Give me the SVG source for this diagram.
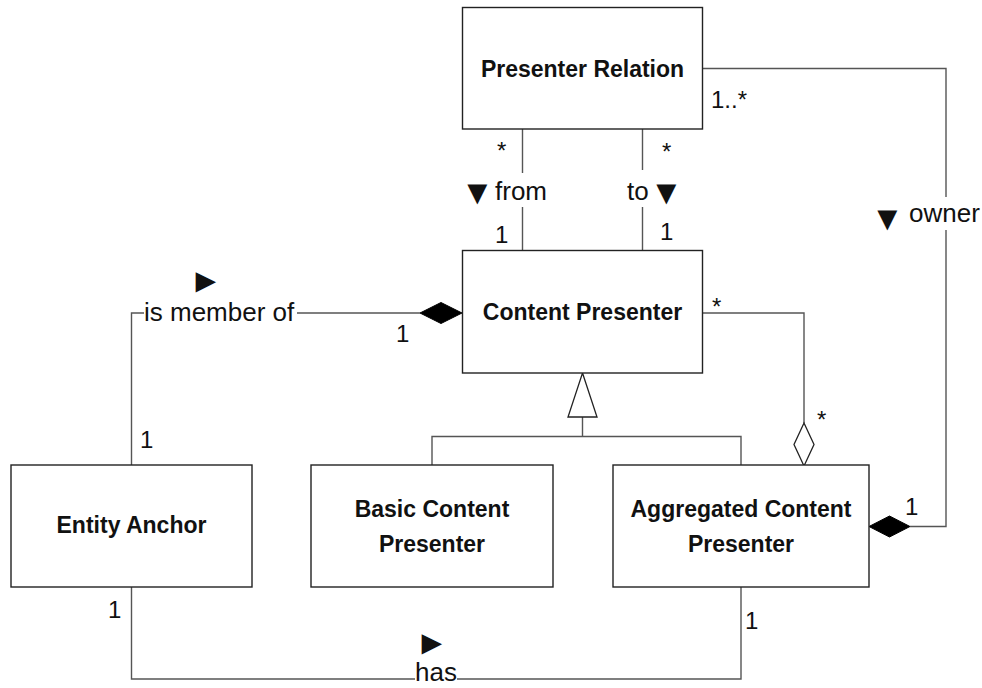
<svg xmlns="http://www.w3.org/2000/svg" width="982" height="688" viewBox="0 0 982 688">
  <style>
    .box { fill: #ffffff; stroke: #222222; stroke-width: 1.4; }
    .name { font-family: "Liberation Sans", Arial, sans-serif; font-weight: bold; font-size: 23px; fill: #111111; text-anchor: middle; }
    .line { fill: none; stroke: #555555; stroke-width: 1.4; }
    .filled { fill: #000000; stroke: #000000; stroke-width: 1; }
    .hollow { fill: #ffffff; stroke: #222222; stroke-width: 1.3; }
    .role { font-family: "Liberation Sans", Arial, sans-serif; font-size: 26px; fill: #111111; }
    .dir { font-size: 34px; }
    .mult { font-family: "Liberation Sans", Arial, sans-serif; font-size: 24px; fill: #111111; }
  </style>

  <!-- connectors -->
  <g id="connectors">
    <!-- from: Presenter Relation -> Content Presenter -->
    <path class="line" d="M522.5,129 V173 M522.5,207 V250"/>
    <!-- to: Presenter Relation -> Content Presenter -->
    <path class="line" d="M642.5,129 V170 M642.5,207 V250"/>
    <!-- owner: Presenter Relation -> Aggregated Content Presenter -->
    <path class="line" d="M702,68.5 H946 V197 M946,230 V526.5 H910"/>
    <polygon class="filled" points="869,526.5 889.5,516 910,526.5 889.5,537"/>
    <!-- is member of: Entity Anchor -> Content Presenter -->
    <path class="line" d="M131.5,465 V313 H144 M297,313 H420"/>
    <polygon class="filled" points="462,313 441,302.5 420,313 441,323.5"/>
    <!-- aggregation: Content Presenter -> Aggregated Content Presenter -->
    <path class="line" d="M703,313 H804 V423"/>
    <polygon class="hollow" points="804,466 814,444.5 804,423 794,444.5"/>
    <!-- generalization -->
    <path class="line" d="M582.5,417 V436.5 M432,465 V436.5 H741 V465"/>
    <polygon class="hollow" points="582.5,373 597,417 568,417"/>
    <!-- has: Entity Anchor -> Aggregated Content Presenter -->
    <path class="line" d="M131.5,587 V679 H415 M457,679 H741 V587"/>

    <!-- association labels -->
    <text class="role"><tspan class="dir" x="460.5" y="204">▼</tspan><tspan x="495" y="200">from</tspan></text>
    <text class="role"><tspan x="627" y="200">to</tspan><tspan class="dir" x="649.5" y="204">▼</tspan></text>
    <text class="role"><tspan class="dir" x="870.5" y="230">▼</tspan><tspan x="909" y="222">owner</tspan></text>
    <text class="role dir" x="189" y="292">►</text>
    <text class="role" x="144" y="321">is member of</text>
    <text class="role dir" x="415" y="654">►</text>
    <text class="role" x="415" y="681">has</text>

    <!-- multiplicities -->
    <text class="mult" x="497" y="159">*</text>
    <text class="mult" x="662" y="160">*</text>
    <text class="mult" x="495" y="243">1</text>
    <text class="mult" x="660" y="240">1</text>
    <text class="mult" x="711" y="108">1..*</text>
    <text class="mult" x="396" y="342">1</text>
    <text class="mult" x="140" y="448">1</text>
    <text class="mult" x="108" y="618">1</text>
    <text class="mult" x="745" y="629">1</text>
    <text class="mult" x="712" y="315">*</text>
    <text class="mult" x="817" y="428">*</text>
    <text class="mult" x="905" y="515">1</text>
  </g>

  <!-- classes -->
  <g id="presenter-relation">
    <rect class="box" x="462.5" y="7.5" width="240" height="121.5"/>
    <text class="name" x="582.5" y="77">Presenter Relation</text>
  </g>
  <g id="content-presenter">
    <rect class="box" x="462.5" y="250.5" width="240" height="122.5"/>
    <text class="name" x="582.5" y="320">Content Presenter</text>
  </g>
  <g id="entity-anchor">
    <rect class="box" x="11" y="465" width="241" height="122"/>
    <text class="name" x="131.5" y="533">Entity Anchor</text>
  </g>
  <g id="basic-content-presenter">
    <rect class="box" x="311" y="465" width="242" height="122"/>
    <text class="name" x="432" y="517">Basic Content</text>
    <text class="name" x="432" y="552">Presenter</text>
  </g>
  <g id="aggregated-content-presenter">
    <rect class="box" x="613" y="465" width="256" height="122"/>
    <text class="name" x="741" y="517">Aggregated Content</text>
    <text class="name" x="741" y="552">Presenter</text>
  </g>
</svg>
